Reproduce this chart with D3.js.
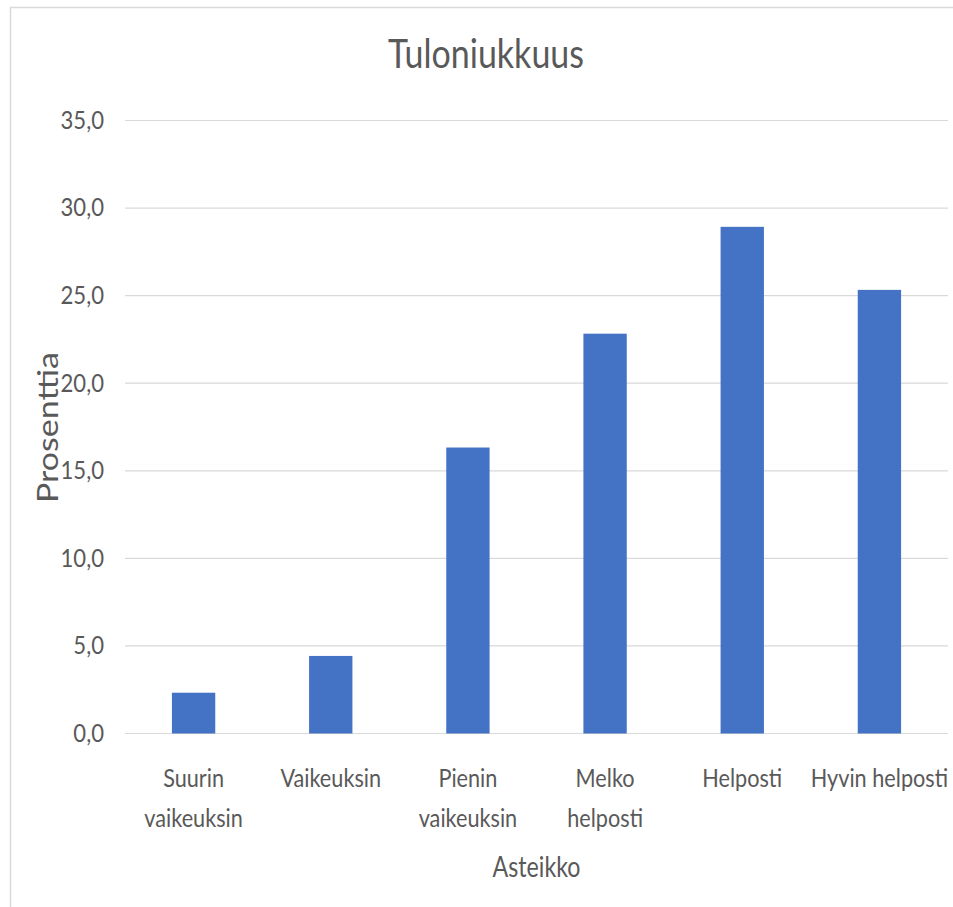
<!DOCTYPE html>
<html><head><meta charset="utf-8">
<script src="https://cdn.jsdelivr.net/npm/d3@7"></script>
<style>
body{margin:0;background:#fff}
svg{display:block}
text{font-family:Lato,"Open Sans",sans-serif;fill:#595959}
</style>
</head><body>
<svg id="chart" width="953" height="907"></svg>
<script>
// ---- data ----
const chartTitle = "Tuloniukkuus";
const xTitle = "Asteikko";
const yTitle = "Prosenttia";
const categories = ["Suurin\nvaikeuksin", "Vaikeuksin", "Pienin\nvaikeuksin", "Melko\nhelposti", "Helposti", "Hyvin helposti"];
const values = [2.3, 4.4, 16.3, 22.8, 28.9, 25.3];
const yTicks = [0, 5, 10, 15, 20, 25, 30, 35];

// ---- layout ----
const W = 953, H = 907;
const plot = {left: 125, right: 948, top: 120, bottom: 733};
const SX = 0.85; // horizontal condensing of text
const svg = d3.select("#chart");

svg.append("rect")
  .attr("x", 10.5).attr("y", 7.5)
  .attr("width", W + 20).attr("height", H + 20)
  .attr("fill", "none").attr("stroke", "#d9d9d9").attr("stroke-width", 1.5);

const locale = d3.formatLocale({decimal: ",", thousands: " ", grouping: [3], currency: ["", "€"]});
const fmt = locale.format(".1f");

const x = d3.scaleBand().domain(categories)
  .range([plot.left, plot.right]).paddingInner(0.684).paddingOuter(0.342);
const y = d3.scaleLinear().domain([0, 35]).range([plot.bottom, plot.top]);

// gridlines + y labels
const gy = svg.append("g").attr("transform", `translate(${plot.left},0)`)
  .call(d3.axisLeft(y).tickValues(yTicks).tickFormat(fmt)
    .tickSize(-(plot.right - plot.left)).tickPadding(0));
gy.select(".domain").remove();
gy.selectAll(".tick line").attr("stroke", "#d9d9d9").attr("stroke-width", 1.2);
gy.selectAll(".tick text")
  .attr("x", null)
  .attr("transform", `translate(-21,0) scale(${SX},1)`)
  .attr("font-size", 26).attr("fill", "#595959")
  .style("font-family", "Lato, 'Open Sans', sans-serif");

// bars
svg.append("g").selectAll("rect").data(values).join("rect")
  .attr("x", (d, i) => x(categories[i]))
  .attr("width", x.bandwidth())
  .attr("y", d => y(d))
  .attr("height", d => y(0) - y(d) + 0.5)
  .attr("fill", "#4472C4");

// x axis labels
const gx = svg.append("g").attr("transform", `translate(0,${plot.bottom})`)
  .call(d3.axisBottom(x).tickSize(0).tickPadding(0));
gx.select(".domain").remove();
gx.selectAll(".tick text").each(function(d) {
  const t = d3.select(this);
  t.text(null).attr("y", null).attr("dy", null)
    .attr("transform", `translate(0,54) scale(${SX},1)`)
    .attr("font-size", 25.5).attr("fill", "#595959")
    .style("font-family", "Lato, 'Open Sans', sans-serif");
  d.split("\n").forEach((line, i) => {
    t.append("tspan").attr("x", 0).attr("dy", i === 0 ? 0 : 40).text(line);
  });
});

// titles
svg.append("text")
  .attr("transform", `translate(486,68) scale(${SX},1)`)
  .attr("text-anchor", "middle").attr("font-size", 40)
  .text(chartTitle);

svg.append("text")
  .attr("transform", `translate(${(plot.left + plot.right) / 2},877) scale(0.8,1)`)
  .attr("text-anchor", "middle").attr("font-size", 29)
  .text(xTitle);

svg.append("text")
  .attr("transform", `translate(57.5,${(plot.top + plot.bottom) / 2 + 1}) rotate(-90) scale(1,${SX})`)
  .attr("text-anchor", "middle").attr("font-size", 34)
  .text(yTitle);
</script>
</body></html>
